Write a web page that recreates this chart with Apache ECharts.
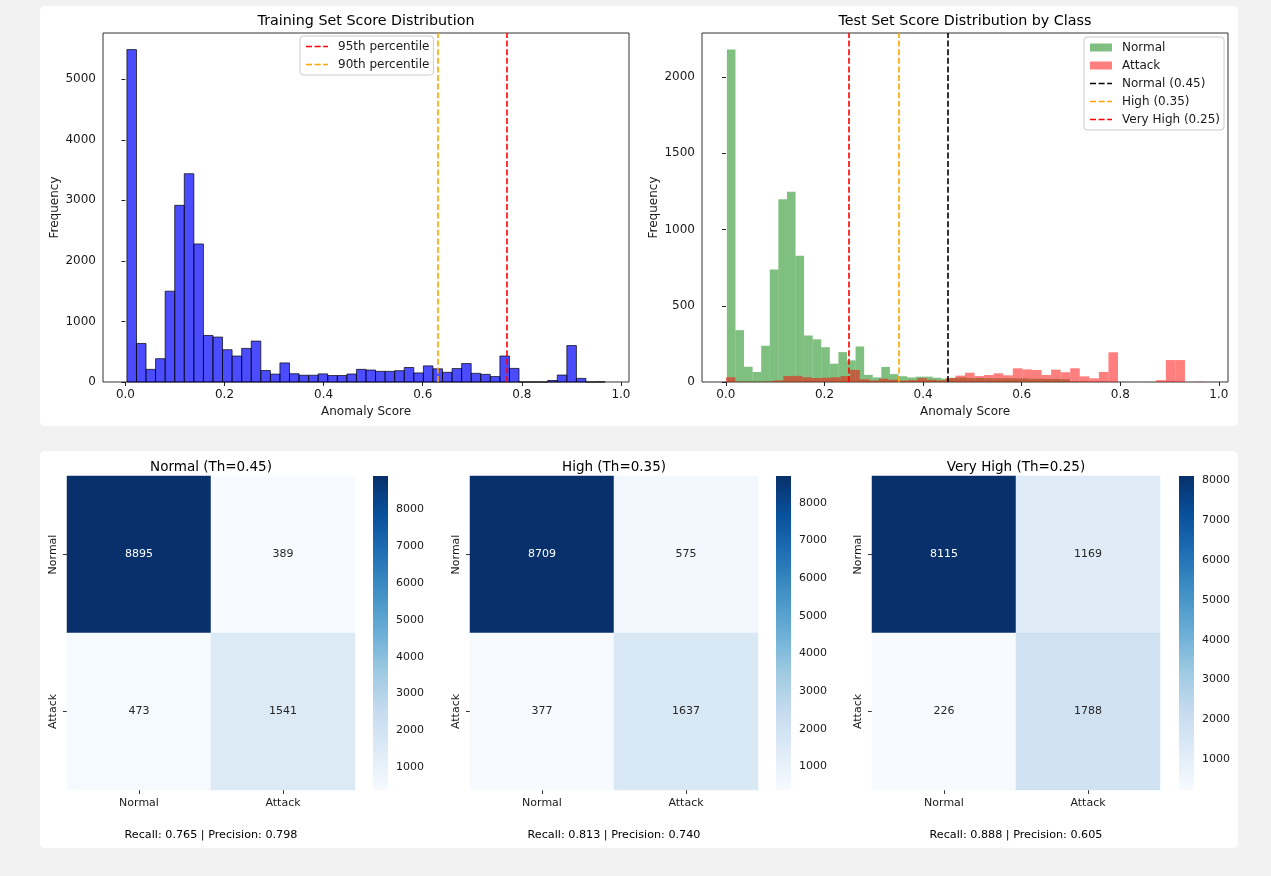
<!DOCTYPE html>
<html>
<head>
<meta charset="utf-8">
<script src="https://cdn.jsdelivr.net/npm/echarts@6/dist/echarts.min.js"></script>
<style>
html,body{margin:0;padding:0;background:#f2f2f2;width:1271px;height:876px;overflow:hidden;}
.card{position:absolute;background:#ffffff;border-radius:5px;}
#top{left:40px;top:6px;width:1198px;height:420px;}
#bottom{left:40px;top:451px;width:1198px;height:397px;}
</style>
</head>
<body>
<div id="top" class="card"></div>
<div id="bottom" class="card"></div>
<script>
// ---------------- data ----------------
const trainBinStart = 0.003;
const trainBinWidth = 0.0193;
const trainCounts = [5490, 637, 209, 385, 1500, 2918, 3440, 2280, 769, 742,
  533, 429, 555, 676, 190, 130, 315, 137, 112, 112,
  134, 107, 107, 132, 209, 198, 176, 176, 187, 240,
  150, 266, 218, 160, 222, 305, 143, 126, 90, 429,
  225, 0, 0, 0, 25, 115, 602, 60, 0, 2];
const percentileNames = ['95th percentile', '90th percentile'];
const percentileValues = [0.77, 0.63];

const normalBinStart = 0.002;
const normalBinWidth = 0.0174;
const normalCounts = [2180, 340, 100, 66, 238, 738, 1198, 1247, 828, 305,
  280, 228, 120, 196, 142, 233, 47, 30, 99, 52,
  38, 30, 35, 35, 28, 22, 28, 30, 26, 26,
  25, 24, 25, 24, 24, 22, 22, 20, 20, 18,
  3, 2, 1, 2, 1, 0, 1, 0, 0, 1];
const attackBinStart = 0.0;
const attackBinWidth = 0.0194;
const attackCounts = [31, 3, 2, 2, 4, 10, 39, 40, 31, 26,
  28, 31, 39, 79, 18, 10, 22, 15, 10, 12,
  25, 15, 11, 26, 42, 61, 39, 46, 57, 44,
  90, 83, 79, 46, 81, 64, 90, 37, 24, 66,
  195, 0, 0, 0, 0, 12, 144, 144, 0, 2];
const thresholdNames = ['Normal (0.45)', 'High (0.35)', 'Very High (0.25)'];
const thresholdValues = [0.45, 0.35, 0.25];

const xTicks = [0, 0.2, 0.4, 0.6, 0.8, 1.0];
const trainYTicks = [0, 1000, 2000, 3000, 4000, 5000];
const testYTicks = [0, 500, 1000, 1500, 2000];

const classLabels = ['Normal', 'Attack'];
const cmTitles = ['Normal (Th=0.45)', 'High (Th=0.35)', 'Very High (Th=0.25)'];
const cmNormal = [[8895, 389], [473, 1541]];
const cmHigh = [[8709, 575], [377, 1637]];
const cmVeryHigh = [[8115, 1169], [226, 1788]];
const cmMetrics = ['Recall: 0.765 | Precision: 0.798', 'Recall: 0.813 | Precision: 0.740', 'Recall: 0.888 | Precision: 0.605'];
const colorbarTicks = [1000, 2000, 3000, 4000, 5000, 6000, 7000, 8000];

// ---------------- styles ----------------
const FONT = 'DejaVu Sans';
const TXT = '#1a1a1a';
const TOP_FS = 12;
const TOP_TITLE_FS = 14.3;
const DASH = [6, 2.6];
const DASH_ICON = 'path://M0,0h6v1.6h-6z M8.6,0h6v1.6h-6z M17.2,0h4.8v1.6h-4.8z';
const BLUES = ['#f7fbff', '#deebf7', '#c6dbef', '#9ecae1', '#6baed6', '#4292c6', '#2171b5', '#08519c', '#08306b'];
const percentileColors = ['#ff0000', '#ffa500'];
const thresholdColors = ['#000000', '#ffa500', '#ff0000'];
const plain = v => String(v);

function histData(start, width, counts) {
  return counts.map((c, i) => [start + i * width, start + (i + 1) * width, c]);
}
function barRender(fill, stroke) {
  return function (params, api) {
    const a = api.coord([api.value(0), 0]);
    const b = api.coord([api.value(1), api.value(2)]);
    return {
      type: 'rect',
      shape: { x: a[0], y: b[1], width: b[0] - a[0], height: a[1] - b[1] },
      style: { fill: fill, stroke: stroke || null, lineWidth: stroke ? 1 : 0 }
    };
  };
}
function mplRange(pairs) {
  let lo = Infinity, hi = -Infinity;
  pairs.forEach(p => { lo = Math.min(lo, p[0]); hi = Math.max(hi, p[0] + p[1] * p[2]); });
  const m = 0.05 * (hi - lo);
  return [lo - m, hi + m];
}
function xAxisOf(gridIndex, range) {
  return {
    type: 'value', gridIndex: gridIndex, min: range[0], max: range[1],
    axisLine: { show: false }, splitLine: { show: false },
    axisTick: { show: true, length: 4, customValues: xTicks, lineStyle: { color: '#222' } },
    axisLabel: { customValues: xTicks, formatter: v => v.toFixed(1), fontSize: TOP_FS, color: TXT, fontFamily: FONT, margin: 7 },
    name: 'Anomaly Score', nameLocation: 'middle', nameGap: 22,
    nameTextStyle: { fontSize: TOP_FS, color: TXT, fontFamily: FONT }
  };
}
function yAxisOf(gridIndex, max, ticks) {
  return {
    type: 'value', gridIndex: gridIndex, min: 0, max: max,
    axisLine: { show: false }, splitLine: { show: false },
    axisTick: { show: true, length: 4, customValues: ticks, lineStyle: { color: '#222' } },
    axisLabel: { customValues: ticks, formatter: plain, fontSize: TOP_FS, color: TXT, fontFamily: FONT, margin: 7 },
    name: 'Frequency', nameLocation: 'middle', nameGap: 42,
    nameTextStyle: { fontSize: TOP_FS, color: TXT, fontFamily: FONT }
  };
}
function vlineSeries(name, value, color, xi, yi) {
  return {
    name: name, type: 'line', data: [], xAxisIndex: xi, yAxisIndex: yi, symbol: 'none', z: 5,
    lineStyle: { color: color, type: DASH, width: 1.6 },
    itemStyle: { color: color },
    markLine: {
      silent: true, symbol: 'none', label: { show: false }, animation: false,
      lineStyle: { color: color, type: DASH, width: 1.6 },
      emphasis: { disabled: true },
      data: [{ xAxis: value }]
    }
  };
}
function lineLegendItem(name, color) {
  return { name: name, icon: DASH_ICON, itemStyle: { color: color, borderWidth: 0 } };
}

// ---------------- top chart ----------------
const trainRange = mplRange([[trainBinStart, trainBinWidth, trainCounts.length]]);
const testRange = mplRange([[normalBinStart, normalBinWidth, normalCounts.length], [attackBinStart, attackBinWidth, attackCounts.length]]);
const trainYMax = Math.max(...trainCounts) * 1.05;
const testYMax = Math.max(...normalCounts, ...attackCounts) * 1.05;

const legendCommon = {
  orient: 'vertical', itemWidth: 22, itemHeight: 8, itemGap: 5,
  padding: [4, 4, 4, 6], borderColor: '#cccccc', borderWidth: 1, borderRadius: 3,
  backgroundColor: 'rgba(255,255,255,0.8)', selectedMode: false,
  textStyle: { fontSize: TOP_FS, color: TXT, fontFamily: FONT, lineHeight: 13, padding: [0, 0, 0, 5] }
};

const topSeries = [
  {
    name: 'train', type: 'custom', xAxisIndex: 0, yAxisIndex: 0, z: 2,
    renderItem: barRender('rgba(0,0,255,0.7)', 'rgba(0,0,0,0.7)'),
    encode: { x: [0, 1], y: 2 }, data: histData(trainBinStart, trainBinWidth, trainCounts)
  },
  {
    name: 'Normal', type: 'custom', xAxisIndex: 1, yAxisIndex: 1, z: 2,
    itemStyle: { color: 'rgba(0,128,0,0.5)' },
    renderItem: barRender('rgba(0,128,0,0.5)'),
    encode: { x: [0, 1], y: 2 }, data: histData(normalBinStart, normalBinWidth, normalCounts)
  },
  {
    name: 'Attack', type: 'custom', xAxisIndex: 1, yAxisIndex: 1, z: 3,
    itemStyle: { color: 'rgba(255,0,0,0.5)' },
    renderItem: barRender('rgba(255,0,0,0.5)'),
    encode: { x: [0, 1], y: 2 }, data: histData(attackBinStart, attackBinWidth, attackCounts)
  }
];
percentileNames.forEach((n, i) => topSeries.push(vlineSeries(n, percentileValues[i], percentileColors[i], 0, 0)));
thresholdNames.forEach((n, i) => topSeries.push(vlineSeries(n, thresholdValues[i], thresholdColors[i], 1, 1)));

const titleStyle = { fontSize: TOP_TITLE_FS, fontWeight: 'normal', color: '#000', fontFamily: FONT, lineHeight: 17 };
const topOption = {
  animation: false,
  textStyle: { fontFamily: FONT },
  title: [
    { text: 'Training Set Score Distribution', left: 326, top: 7, textAlign: 'center', padding: 0, textStyle: titleStyle },
    { text: 'Test Set Score Distribution by Class', left: 925, top: 7, textAlign: 'center', padding: 0, textStyle: titleStyle }
  ],
  grid: [
    { left: 63, top: 27, width: 526, height: 349, show: true, borderColor: '#333', borderWidth: 1, backgroundColor: 'transparent' },
    { left: 662, top: 27, width: 526, height: 349, show: true, borderColor: '#333', borderWidth: 1, backgroundColor: 'transparent' }
  ],
  xAxis: [xAxisOf(0, trainRange), xAxisOf(1, testRange)],
  yAxis: [yAxisOf(0, trainYMax, trainYTicks), yAxisOf(1, testYMax, testYTicks)],
  legend: [
    Object.assign({}, legendCommon, {
      left: 260, top: 30,
      data: percentileNames.map((n, i) => lineLegendItem(n, percentileColors[i]))
    }),
    Object.assign({}, legendCommon, {
      right: 14, top: 31,
      data: [
        { name: 'Normal', icon: 'rect', itemStyle: { color: 'rgba(0,128,0,0.5)' } },
        { name: 'Attack', icon: 'rect', itemStyle: { color: 'rgba(255,0,0,0.5)' } }
      ].concat(thresholdNames.map((n, i) => lineLegendItem(n, thresholdColors[i])))
    })
  ],
  series: topSeries
};
echarts.init(document.getElementById('top')).setOption(topOption);

// ---------------- bottom chart ----------------
const matrices = [cmNormal, cmHigh, cmVeryHigh];
const heatLeft = [27, 430, 832];
const cbarLeft = [333, 736, 1139];
const cellW = 288, cellH = 314, gridTop = 25, cbarW = 15;

const bGrids = [], bX = [], bY = [], bSeries = [], bVisual = [], bTitles = [];
matrices.forEach((m, i) => {
  const flat = m[0].concat(m[1]);
  const vmin = Math.min(...flat), vmax = Math.max(...flat);
  bGrids.push({ left: heatLeft[i], top: gridTop, width: cellW, height: cellH });
  bGrids.push({ left: cbarLeft[i], top: gridTop, width: cbarW, height: cellH });
  const catAxis = {
    type: 'category', data: classLabels,
    axisLine: { show: false }, splitLine: { show: false },
    axisTick: { show: true, alignWithLabel: true, length: 4, lineStyle: { color: '#333' } },
    axisLabel: { fontSize: 11, color: TXT, fontFamily: FONT, margin: 8 }
  };
  bX.push(Object.assign({}, catAxis, { gridIndex: 2 * i }));
  bY.push(Object.assign({}, catAxis, { gridIndex: 2 * i, inverse: true,
    axisLabel: { fontSize: 11, color: TXT, fontFamily: FONT, margin: 8, rotate: 90 } }));
  bX.push({ type: 'value', gridIndex: 2 * i + 1, min: 0, max: 1, show: false });
  bY.push({
    type: 'value', gridIndex: 2 * i + 1, position: 'right', min: vmin, max: vmax,
    axisLine: { show: false }, splitLine: { show: false },
    axisTick: { show: true, length: 4, customValues: colorbarTicks, lineStyle: { color: '#333' } },
    axisLabel: { customValues: colorbarTicks, formatter: plain, fontSize: 11, color: TXT, fontFamily: FONT, margin: 8 }
  });
  const data = [];
  m.forEach((row, r) => row.forEach((v, c) => {
    const t = (v - vmin) / (vmax - vmin);
    data.push({ value: [c, r, v], label: { color: t > 0.6 ? '#ffffff' : '#262626' } });
  }));
  bSeries.push({
    type: 'heatmap', xAxisIndex: 2 * i, yAxisIndex: 2 * i, data: data,
    label: { show: true, fontSize: 11, fontFamily: FONT, formatter: p => String(p.value[2]) },
    itemStyle: { borderWidth: 0 }, emphasis: { disabled: true }
  });
  bVisual.push({ type: 'continuous', show: false, seriesIndex: 2 * i, min: vmin, max: vmax, dimension: 2, inRange: { color: BLUES } });
  const stops = BLUES.slice().reverse().map((c, k) => ({ offset: k / (BLUES.length - 1), color: c }));
  bSeries.push({
    type: 'custom', xAxisIndex: 2 * i + 1, yAxisIndex: 2 * i + 1, silent: true,
    data: [[vmin, vmax]], encode: { y: [0, 1] },
    renderItem: function (params, api) {
      const a = api.coord([0, api.value(0)]);
      const b = api.coord([1, api.value(1)]);
      return {
        type: 'rect',
        shape: { x: a[0], y: b[1], width: b[0] - a[0], height: a[1] - b[1] },
        style: { fill: new echarts.graphic.LinearGradient(0, 0, 0, 1, stops) }
      };
    }
  });
  const cx = heatLeft[i] + cellW / 2;
  bTitles.push({ text: cmTitles[i], left: cx, top: 8, textAlign: 'center', padding: 0,
    textStyle: { fontSize: 13.5, fontWeight: 'normal', color: '#000', fontFamily: FONT, lineHeight: 16 } });
  bTitles.push({ text: cmMetrics[i], left: cx, top: 377, textAlign: 'center', padding: 0,
    textStyle: { fontSize: 11.2, fontWeight: 'normal', color: '#000', fontFamily: FONT, lineHeight: 14 } });
});

echarts.init(document.getElementById('bottom')).setOption({
  animation: false,
  textStyle: { fontFamily: FONT },
  title: bTitles,
  grid: bGrids,
  xAxis: bX,
  yAxis: bY,
  visualMap: bVisual,
  series: bSeries
});
</script>
</body>
</html>
